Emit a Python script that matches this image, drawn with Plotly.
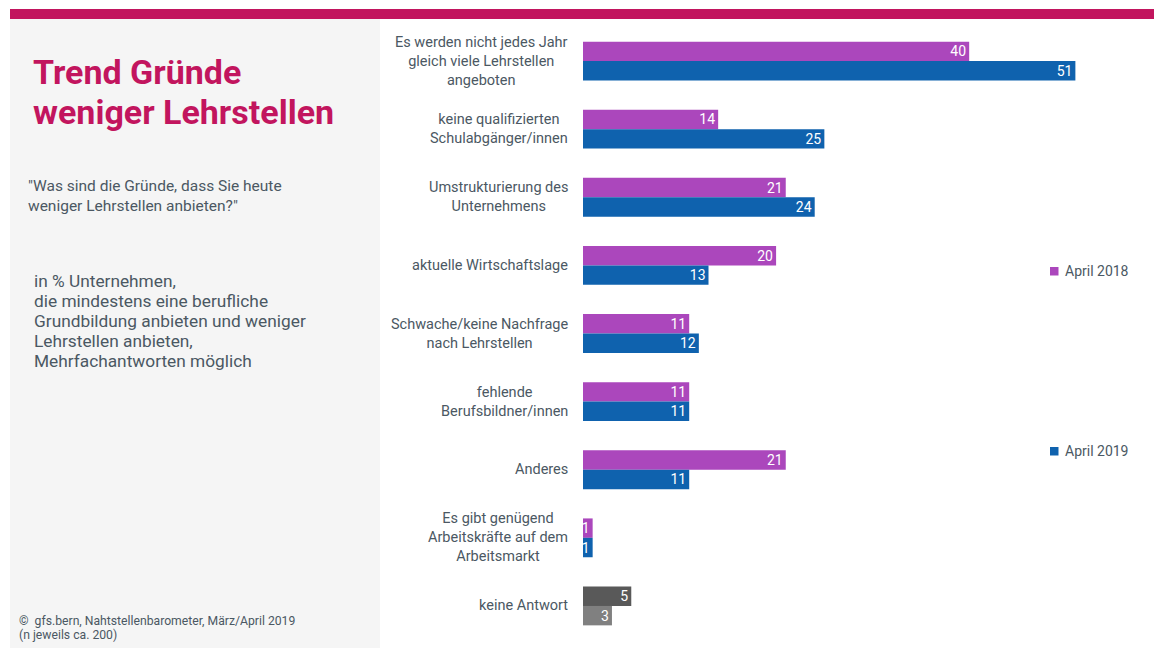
import plotly.graph_objects as go

# Survey data: reasons for offering fewer apprenticeship places (in %)
categories = [
    "Es werden nicht jedes Jahr<br>gleich viele Lehrstellen<br>angeboten",
    "keine qualifizierten<br>Schulabgänger/innen",
    "Umstrukturierung des<br>Unternehmens",
    "aktuelle Wirtschaftslage",
    "Schwache/keine Nachfrage<br>nach Lehrstellen",
    "fehlende<br>Berufsbildner/innen",
    "Anderes",
    "Es gibt genügend<br>Arbeitskräfte auf dem<br>Arbeitsmarkt",
    "keine Antwort",
]
april_2018 = [40, 14, 21, 20, 11, 11, 21, 1, 5]
april_2019 = [51, 25, 24, 13, 12, 11, 11, 1, 3]
series_names = ["April 2018", "April 2019"]

title_lines = ["Trend Gründe", "weniger Lehrstellen"]
question_lines = ["\"Was sind die Gründe, dass Sie heute", "weniger Lehrstellen anbieten?\""]
basis_lines = [
    "in % Unternehmen,",
    "die mindestens eine berufliche",
    "Grundbildung anbieten und weniger",
    "Lehrstellen anbieten,",
    "Mehrfachantworten möglich",
]
source_lines = ["©  gfs.bern, Nahtstellenbarometer, März/April 2019", "(n jeweils ca. 200)"]

# Colours
C_2018 = "#ab47bc"
C_2019 = "#0f62ae"
C_NA_2018 = "#595959"
C_NA_2019 = "#808080"
C_ACCENT = "#c2155e"
C_TEXT = "#4b5863"
C_PANEL = "#f5f5f5"
FONT = "Roboto"

W, H = 1154, 648
L, R, T, B = 583, 1114, 27, 640


def px2x(px):
    return (px - L) / (R - L)


def py2y(py):
    return (B - py) / (B - T)


def colors_for(base, na_color):
    return [na_color if c == "keine Antwort" else base for c in categories]


fig = go.Figure()
for name, vals, base, na in [
    (series_names[0], april_2018, C_2018, C_NA_2018),
    (series_names[1], april_2019, C_2019, C_NA_2019),
]:
    fig.add_trace(go.Bar(
        name=name,
        y=categories,
        x=vals,
        orientation="h",
        marker=dict(color=colors_for(base, na), line=dict(width=0)),
        text=vals,
        texttemplate="%{text}",
        textposition="inside",
        insidetextanchor="end",
        textangle=0,
        textfont=dict(color="white", size=14, family=FONT),
        showlegend=False,
        hoverinfo="skip",
    ))

shapes = [
    # left info panel
    dict(type="rect", xref="paper", yref="paper", layer="below",
         x0=px2x(10), x1=px2x(380), y0=py2y(648), y1=py2y(19),
         fillcolor=C_PANEL, line=dict(width=0)),
    # top accent band
    dict(type="rect", xref="paper", yref="paper",
         x0=px2x(10), x1=px2x(1154), y0=py2y(19), y1=py2y(9),
         fillcolor=C_ACCENT, line=dict(width=0)),
]

annotations = []
# category labels, centred lines, right edge next to the bars
for c in categories:
    annotations.append(dict(
        x=0, xref="paper", y=c, yref="y", xanchor="right", yanchor="middle",
        xshift=-13, text=c, align="center", showarrow=False,
        font=dict(size=14.5, color=C_TEXT, family=FONT)))

# manual legend
for name, col, py in [(series_names[0], C_2018, 271), (series_names[1], C_2019, 451)]:
    shapes.append(dict(type="rect", xref="paper", yref="paper",
                       x0=px2x(1050), x1=px2x(1058.5), y0=py2y(py + 4.5), y1=py2y(py - 4),
                       fillcolor=col, line=dict(width=0)))
    annotations.append(dict(x=px2x(1063), y=py2y(py), xref="paper", yref="paper",
                            xanchor="left", yanchor="middle", text=name, showarrow=False,
                            font=dict(size=14, color=C_TEXT, family=FONT)))


def text_block(lines, x_px, y_first, spacing, size, color, bold=False):
    for i, line in enumerate(lines):
        annotations.append(dict(
            x=px2x(x_px), y=py2y(y_first + i * spacing), xref="paper", yref="paper",
            xanchor="left", yanchor="middle", showarrow=False, align="left",
            text="<b>" + line + "</b>" if bold else line,
            font=dict(size=size, color=color, family=FONT)))


# panel texts
text_block(title_lines, 31, 72, 40, 34, C_ACCENT, bold=True)
text_block(question_lines, 26, 186, 20, 15.5, C_TEXT)
text_block(basis_lines, 32, 281, 20, 17.3, C_TEXT)
text_block(source_lines, 17, 621, 13.5, 12.2, C_TEXT)

fig.update_layout(
    width=W, height=H,
    margin=dict(l=L, r=W - R, t=T, b=H - B, pad=0),
    paper_bgcolor="white", plot_bgcolor="white",
    barmode="group", bargap=0.43, bargroupgap=0,
    uniformtext=dict(minsize=14, mode="show"),
    xaxis=dict(range=[0, 55], visible=False, fixedrange=True),
    yaxis=dict(autorange="reversed", showticklabels=False, showgrid=False,
               zeroline=False, showline=False, ticks="", fixedrange=True),
    shapes=shapes,
    annotations=annotations,
    showlegend=False,
    font=dict(family=FONT, color=C_TEXT),
)

fig.write_html("out.html", config={"displayModeBar": False})
